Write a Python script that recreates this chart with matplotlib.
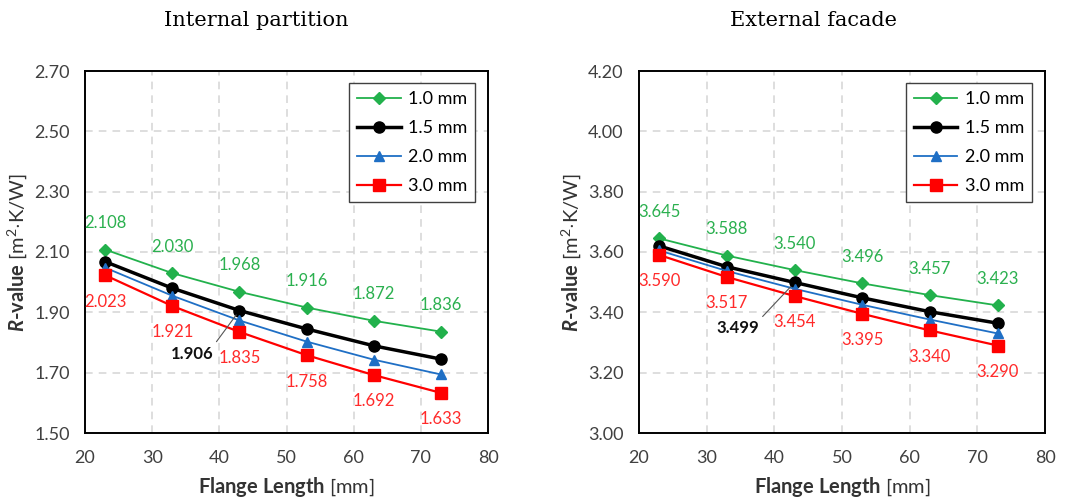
import matplotlib
matplotlib.use("Agg")
import matplotlib.pyplot as plt

plt.rcParams["font.family"] = ["Lato", "DejaVu Sans"]
plt.rcParams["mathtext.fontset"] = "custom"
plt.rcParams["mathtext.rm"] = "Lato"
plt.rcParams["mathtext.bf"] = "Lato:bold"
plt.rcParams["mathtext.it"] = "Lato:italic"
plt.rcParams["mathtext.bfit"] = "Lato:italic:bold"

flange = [23, 33, 43, 53, 63, 73]
series_names = ["1.0 mm", "1.5 mm", "2.0 mm", "3.0 mm"]

# Internal partition
int_10 = [2.108, 2.030, 1.968, 1.916, 1.872, 1.836]
int_15 = [2.068, 1.980, 1.906, 1.845, 1.789, 1.745]
int_20 = [2.048, 1.955, 1.873, 1.803, 1.743, 1.694]
int_30 = [2.023, 1.921, 1.835, 1.758, 1.692, 1.633]

# External facade
ext_10 = [3.645, 3.588, 3.540, 3.496, 3.457, 3.423]
ext_15 = [3.620, 3.551, 3.499, 3.448, 3.402, 3.364]
ext_20 = [3.605, 3.537, 3.478, 3.425, 3.376, 3.330]
ext_30 = [3.590, 3.517, 3.454, 3.395, 3.340, 3.290]

colors = ["#22b14c", "#000000", "#1f6fc5", "#ff0000"]
markers = ["D", "o", "^", "s"]
msizes = [6, 8, 7.5, 8]
lwidths = [1.3, 2.5, 1.3, 1.6]

fig = plt.figure(figsize=(10.77, 5.04), dpi=100)
ax1 = fig.add_axes([85 / 1077, 1 - 433 / 504, 403 / 1077, 362 / 504])
ax2 = fig.add_axes([639 / 1077, 1 - 433 / 504, 406 / 1077, 362 / 504])


def draw(ax, data, ylim, yticks, bold_xy, bold_off):
    for vals, name, c, m, ms, lw in zip(data, series_names, colors, markers, msizes, lwidths):
        ax.plot(flange, vals, color=c, marker=m, markersize=ms, lw=lw, label=name)
    for x, v in zip(flange, data[0]):
        ax.annotate(f"{v:.3f}", (x, v), xytext=(0, 19), textcoords="offset points",
                    ha="center", va="center", color="#2bb04f", fontsize=12)
    for x, v in zip(flange, data[3]):
        ax.annotate(f"{v:.3f}", (x, v), xytext=(0, -19), textcoords="offset points",
                    ha="center", va="center", color="#ff2a2a", fontsize=12)
    ax.annotate(f"{bold_xy[1]:.3f}", bold_xy, xytext=bold_off, textcoords="offset points",
                ha="center", va="center", color="#111111", fontsize=12, fontweight="bold",
                arrowprops=dict(arrowstyle="-", color="#555555", lw=0.8,
                                shrinkA=1, shrinkB=4, relpos=(1, 1)))
    ax.set_xlim(20, 80)
    ax.set_ylim(*ylim)
    ax.set_xticks([20, 30, 40, 50, 60, 70, 80])
    ax.set_yticks(yticks)
    ax.set_yticklabels([f"{t:.2f}" for t in yticks])
    ax.grid(True, color="#d4d4d4", linestyle=(0, (5, 4)), lw=1.1)
    ax.set_axisbelow(True)
    ax.tick_params(length=0, labelsize=13, colors="#404040")
    ax.tick_params(axis="y", pad=11)
    ax.tick_params(axis="x", pad=12)
    for s in ax.spines.values():
        s.set_linewidth(1.4)
        s.set_color("black")
    ax.set_xlabel("Flange Length $\\mathrm{[mm]}$", fontsize=14.5, fontweight="bold",
                  color="#333333", labelpad=7)
    ax.set_ylabel("$\\mathbfit{R}$-value $\\mathrm{[m^2{\\cdot}K/W]}$", fontsize=14.5,
                  fontweight="bold", color="#333333", labelpad=4)
    leg = ax.legend(loc="upper right", fontsize=13, frameon=True, fancybox=False,
                    borderpad=0.45, labelspacing=0.72, handlelength=2.4,
                    handletextpad=0.4, borderaxespad=0,
                    bbox_to_anchor=(0.968, 0.967), framealpha=1)
    leg.get_frame().set_edgecolor("#404040")
    leg.get_frame().set_linewidth(1.0)


draw(ax1, [int_10, int_15, int_20, int_30], (1.5, 2.7),
     [1.5, 1.7, 1.9, 2.1, 2.3, 2.5, 2.7], (43, 1.906), (-34, -31))
draw(ax2, [ext_10, ext_15, ext_20, ext_30], (3.0, 4.2),
     [3.0, 3.2, 3.4, 3.6, 3.8, 4.0, 4.2], (43, 3.499), (-41, -33))

fig.text(256 / 1077, 1 - 20 / 504, "Internal partition", ha="center", va="center",
         fontsize=15, family="DejaVu Serif")
fig.text(813 / 1077, 1 - 20 / 504, "External facade", ha="center", va="center",
         fontsize=15, family="DejaVu Serif")

fig.savefig("out.png", dpi=100)
